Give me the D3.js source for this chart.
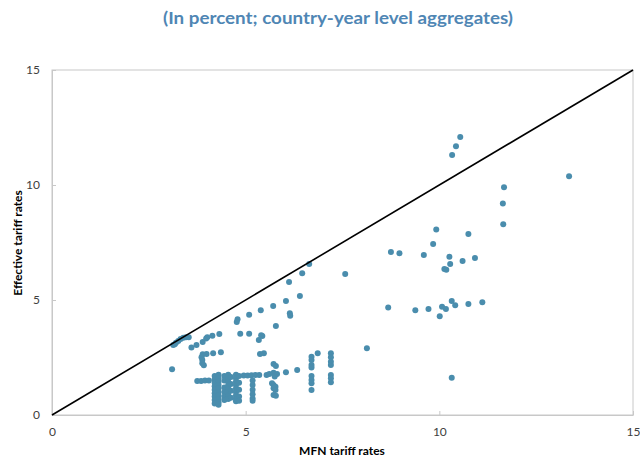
<!DOCTYPE html>
<html><head><meta charset="utf-8">
<script src="https://d3js.org/d3.v7.min.js"></script>
<style>body{margin:0;background:#fff}svg{display:block}</style>
</head><body><svg id="c" width="640" height="464"></svg>
<script>
const titleText = "(In percent; country-year level aggregates)";
const xLabel = "MFN tariff rates";
const yLabel = "Effective tariff rates";
const xTicks = [0, 5, 10, 15];
const yTicks = [0, 5, 10, 15];
const diagonal = [[0, 0], [15, 15]];

// MFN rate (x) and effective rate (y)
const mfn = [
  3.13,3.17,3.20,3.26,3.32,3.39,3.46,3.53,3.10,
  3.60,3.73,3.89,3.98,4.01,4.14,4.32,
  3.89,3.86,3.88,3.88,3.92,3.99,4.16,4.36,
  3.75,3.85,3.95,4.05,
  4.20,4.20,4.20,4.20,4.20,4.20,4.20,4.20,4.20,
  4.30,4.30,4.30,4.30,4.30,4.30,4.30,4.30,4.30,4.30,
  4.45,4.45,4.45,4.45,4.45,4.45,
  4.55,4.55,4.55,4.55,4.55,4.55,4.55,4.55,
  4.62,4.62,4.62,4.62,
  4.75,4.75,4.75,4.75,4.75,4.75,4.75,4.75,4.75,
  4.83,4.83,4.83,4.83,4.83,
  4.95,5.05,5.15,5.25,5.35,5.54,
  5.18,5.18,5.18,5.18,5.18,5.18,
  4.77,4.79,5.09,5.39,5.71,6.04,6.14,6.15,6.40,6.12,6.46,6.64,5.78,
  4.86,5.09,5.43,5.37,5.47,5.34,5.40,
  5.68,5.72,5.77,5.72,5.77,5.72,5.78,5.61,5.72,5.81,5.75,5.72,5.78,
  6.04,6.33,
  6.70,6.70,6.70,6.70,6.70,6.70,6.70,6.70,6.86,
  7.20,7.20,7.20,7.20,7.20,7.20,7.20,
  8.13,7.57,
  10.54,10.43,10.33,13.35,11.67,11.64,11.65,9.92,10.75,9.84,8.75,8.97,9.60,
  10.26,10.28,10.60,10.92,10.13,10.18,8.68,9.38,9.72,10.07,10.17,10.01,
  10.32,10.41,10.75,11.11,10.32
];
const effective = [
  3.04,3.08,3.14,3.22,3.30,3.36,3.38,3.38,1.99,
  2.93,3.04,3.17,3.33,3.38,3.45,3.52,
  2.64,2.51,2.39,2.25,2.16,2.65,2.68,2.73,
  1.48,1.48,1.50,1.50,
  1.70,1.55,1.40,1.25,1.10,0.95,0.80,0.65,0.50,
  1.75,1.60,1.45,1.30,1.15,1.00,0.85,0.70,0.55,0.45,
  1.70,1.50,1.20,1.00,0.80,0.65,
  1.75,1.60,1.45,1.30,1.15,1.00,0.85,0.70,
  1.65,1.35,1.05,0.75,
  1.75,1.60,1.45,1.30,1.15,1.00,0.85,0.70,0.60,
  1.70,1.40,1.10,0.80,0.62,
  1.72,1.72,1.73,1.74,1.74,1.74,
  1.50,1.30,1.10,0.90,0.72,0.62,
  4.04,4.16,4.36,4.55,4.74,4.96,4.42,4.32,5.17,5.78,6.16,6.57,3.87,
  3.53,3.53,3.43,2.65,2.68,3.26,3.47,
  1.38,1.30,1.23,1.16,1.09,0.87,0.84,1.78,1.84,1.78,1.67,2.22,2.13,
  1.86,1.96,
  2.53,2.39,2.17,2.07,1.70,1.52,1.38,1.09,2.68,
  2.68,2.51,2.32,2.17,1.74,1.60,1.42,
  2.90,6.13,
  12.09,11.68,11.30,10.38,9.90,9.20,8.29,8.07,7.87,7.43,7.09,7.03,6.96,
  6.88,6.57,6.70,6.83,6.35,6.32,4.67,4.55,4.61,4.71,4.61,4.29,
  4.96,4.77,4.83,4.90,1.62
];

const svg = d3.select("#c");
const m = {l: 52, r: 633, t: 70, b: 415};
const x = d3.scaleLinear().domain([0, 15]).range([m.l, m.r]);
const y = d3.scaleLinear().domain([0, 15]).range([m.b, m.t]);
const font = "Lato, 'Open Sans', 'Liberation Sans', sans-serif";

// frame
svg.append("rect").attr("x", m.l).attr("y", m.t)
  .attr("width", m.r - m.l).attr("height", m.b - m.t)
  .attr("fill", "none").attr("stroke", "#c8c8c8").attr("stroke-width", 1);

// axes
const gx = svg.append("g").attr("transform", `translate(0,${m.b})`)
  .call(d3.axisBottom(x).tickValues(xTicks).tickSizeInner(-4).tickSizeOuter(0).tickPadding(12));
const gy = svg.append("g").attr("transform", `translate(${m.l},0)`)
  .call(d3.axisLeft(y).tickValues(yTicks).tickSizeInner(-4).tickSizeOuter(0).tickPadding(12));
[gx, gy].forEach(g => {
  g.select(".domain").attr("stroke", "#c8c8c8");
  g.selectAll(".tick line").attr("stroke", "#c8c8c8");
  g.selectAll(".tick text").attr("fill", "#404040").style("font-family", font).style("font-size", "12px");
});

// points
svg.append("g").selectAll("circle").data(mfn.map((v, i) => [v, effective[i]]))
  .join("circle")
  .attr("cx", d => x(d[0])).attr("cy", d => y(d[1])).attr("r", 3)
  .attr("fill", "#4a8dad");

// 45-degree line
svg.append("path").datum(diagonal)
  .attr("d", d3.line().x(d => x(d[0])).y(d => y(d[1])))
  .attr("stroke", "#000").attr("stroke-width", 1.6).attr("fill", "none");

// title
svg.append("text").attr("x", 338).attr("y", 24).attr("text-anchor", "middle")
  .attr("textLength", 350).attr("lengthAdjust", "spacingAndGlyphs")
  .style("font-family", font).style("font-weight", "bold").style("font-size", "17px")
  .attr("fill", "#4f86b4").text(titleText);

// axis labels
svg.append("text").attr("x", 342).attr("y", 455).attr("text-anchor", "middle")
  .style("font-family", font).style("font-weight", "bold").style("font-size", "12px")
  .attr("fill", "#000").text(xLabel);
svg.append("text").attr("transform", "translate(22,243) rotate(-90)").attr("text-anchor", "middle")
  .style("font-family", font).style("font-weight", "bold").style("font-size", "12px")
  .attr("fill", "#000").text(yLabel);
</script></body></html>
